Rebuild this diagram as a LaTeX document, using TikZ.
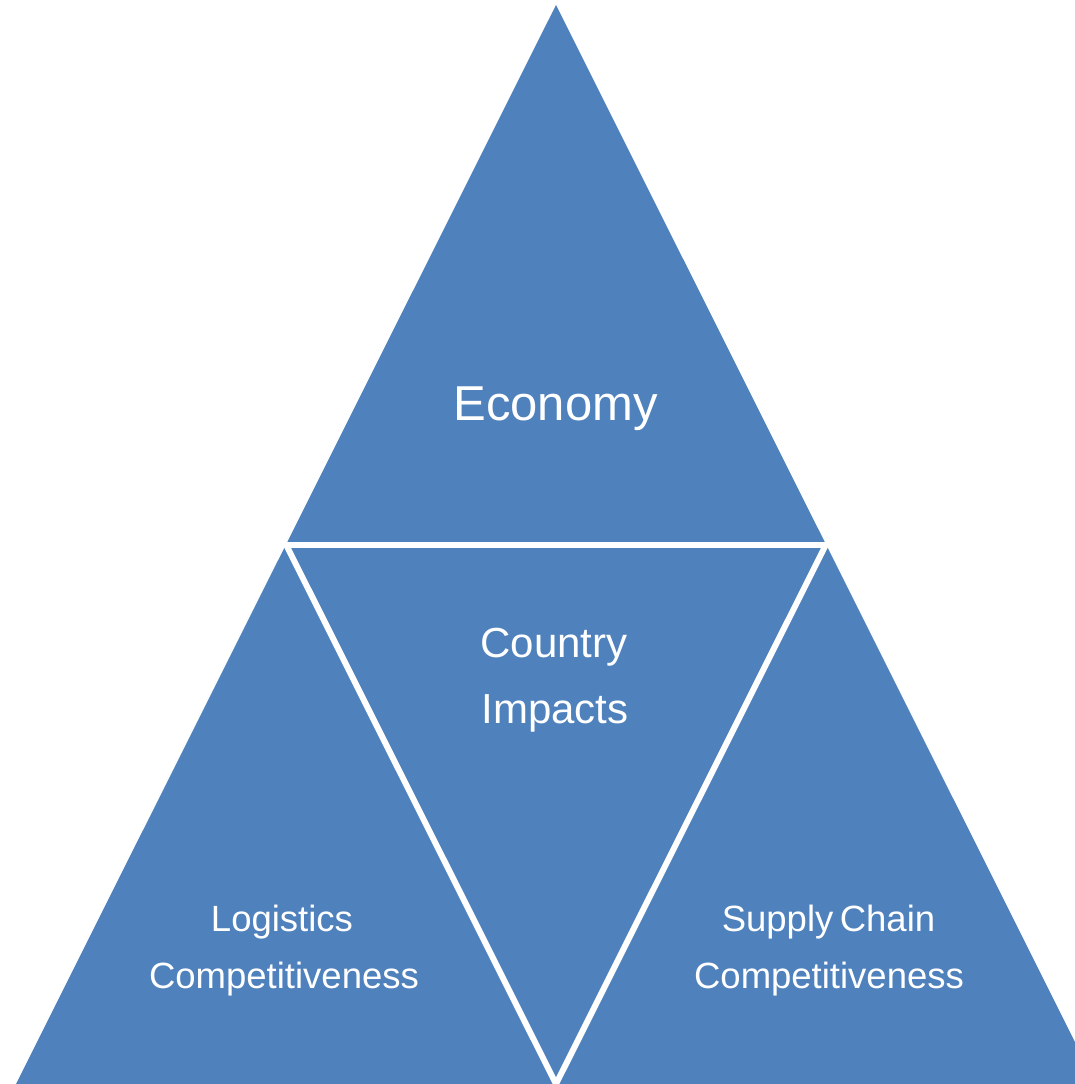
\documentclass[tikz,border=0pt]{standalone}
\usepackage{fontspec}
\setmainfont{Liberation Sans}
\definecolor{tribl}{HTML}{4F81BD}
\begin{document}
\begin{tikzpicture}[x=1pt,y=-1pt,
  gapline/.style={draw=white,line width=6pt,line cap=round},
  lbl/.style={text=white,anchor=base,inner sep=0pt,outer sep=0pt}]
\useasboundingbox (0,0) rectangle (1075,1084);
\clip (0,0) rectangle (1075,1084);
% outer triangle corners and midpoints
\coordinate (A) at (556,5);
\coordinate (B) at (16,1084);
\coordinate (C) at (1096,1084);
\coordinate (mAB) at (286,544.5);
\coordinate (mAC) at (826,544.5);
\coordinate (mBC) at (556,1084);
\fill[tribl] (A) -- (B) -- (C) -- cycle;
\draw[gapline] (mAB) -- (mAC);
\draw[gapline] (mAB) -- (mBC) -- (mAC);
% labels
\node[lbl,font=\fontsize{49}{58}\selectfont] (econ) at (555.5,420) {Economy};
\node[lbl,font=\fontsize{42}{50}\selectfont] (ci1) at (554,657) {Country};
\node[lbl,font=\fontsize{42}{50}\selectfont] (ci2) at (555,723) {Impacts};
\node[lbl,font=\fontsize{36.5}{44}\selectfont] (lc1) at (282,931) {Logistics};
\node[lbl,font=\fontsize{36.5}{44}\selectfont] (lc2) at (284,988) {Competitiveness};
\node[lbl,font=\fontsize{36.5}{44}\selectfont] (sc1) at (828.5,931) {Supply\kern-0.1em\ Chain};
\node[lbl,font=\fontsize{36.5}{44}\selectfont] (sc2) at (829,988) {Competitiveness};
\end{tikzpicture}
\end{document}
